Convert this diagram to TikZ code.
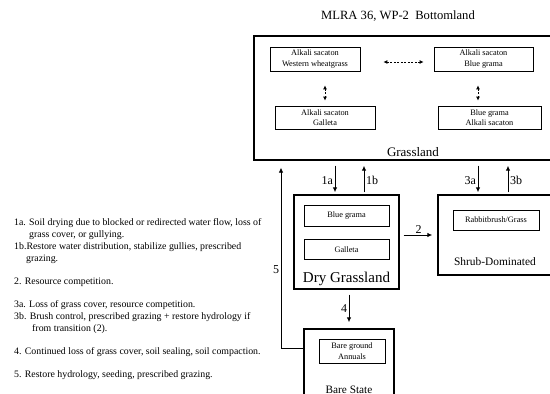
\documentclass[tikz,border=0pt]{standalone}
\usepackage{fontspec}
\setmainfont{Liberation Serif}
\usetikzlibrary{arrows.meta,positioning,calc}
\tikzset{
  statebox/.style={
    draw,
    line width=1.3pt,
    inner sep=0pt
  },
  communitybox/.style={
    draw,
    line width=0.7pt,
    align=center,
    inner sep=1pt,
    font=\fontsize{8.3}{10.5}\selectfont
  },
  statelabel/.style={font=\fontsize{13}{15}\selectfont, inner sep=1pt},
  steplabel/.style={font=\fontsize{12}{14}\selectfont, inner sep=1.5pt},
  notetext/.style={align=left, inner sep=0pt, font=\fontsize{9.85}{12}\selectfont},
  shiftarrow/.style={-{Latex[length=5pt,width=4.5pt]}, line width=1pt},
  pathwayarrow/.style={{Latex[length=4pt,width=4pt]}-{Latex[length=4pt,width=4pt]}, dash pattern=on 2pt off 1.5pt, line width=0.9pt}
}

\begin{document}
\begin{tikzpicture}[x=1pt, y=-1pt]
\useasboundingbox (0,0) rectangle (550,394);
\node[font=\fontsize{12.6}{15}\selectfont] (title) at (398,16) {MLRA 36, WP-2\ \ Bottomland};

% grassland state
\node[statebox, minimum width=318pt, minimum height=124pt] (grass) at (413,98) {};
\node[statelabel, above=3pt of grass.south] (grasslbl) {Grassland};
\node[communitybox, minimum width=90pt, minimum height=24pt] (awg) at (315,59) {Alkali sacaton\\Western wheatgrass};
\node[communitybox, minimum width=99pt, minimum height=24pt] (abg) at (483.5,59) {Alkali sacaton\\Blue grama};
\node[communitybox, minimum width=100pt, minimum height=23pt] (ag) at (325,117.5) {Alkali sacaton\\Galleta};
\node[communitybox, minimum width=103pt, minimum height=23pt] (bga) at (489.5,117.5) {Blue grama\\Alkali sacaton};

% dry grassland state
\node[statebox, minimum width=105pt, minimum height=94pt] (dry) at (346.5,242) {};
\node[communitybox, minimum width=85pt, minimum height=21pt] (bgr) at (346.5,215.5) {Blue grama};
\node[communitybox, below=13pt of bgr, minimum width=85pt, minimum height=20pt] (gal) {Galleta};
\node[statelabel, font=\fontsize{15}{17}\selectfont, above=3pt of dry.south] (drylbl) {Dry Grassland};

% shrub state
\node[statebox, minimum width=114pt, minimum height=80pt] (shrub) at (495,235) {};
\node[communitybox, minimum width=86pt, minimum height=20pt] (rab) at (496,220) {Rabbitbrush/Grass};
\node[statelabel, font=\fontsize{11.4}{14}\selectfont, above=9pt of shrub.south] (shrublbl) {Shrub-Dominated};

% bare state
\node[statebox, minimum width=90pt, minimum height=70pt] (bare) at (349,364) {};
\node[communitybox, minimum width=66pt, minimum height=24pt] (bgan) at (352,351) {Bare ground\\Annuals};
\node[statelabel, font=\fontsize{11.3}{14}\selectfont, below=21pt of bgan.south -| bare] (barelbl) {Bare State};

% notes
\node[notetext, anchor=north west] (notes) at (14,218.5) {%
1a. Soil drying due to blocked or redirected water flow, loss of\\
\hspace*{15pt}grass cover, or gullying.\\
1b.Restore water distribution, stabilize gullies, prescribed\\
\hspace*{12pt}grazing.\\[11pt]
2. Resource competition.\\[11pt]
3a. Loss of grass cover, resource competition.\\
3b. Brush control, prescribed grazing + restore hydrology if\\
\hspace*{18pt}from transition (2).\\[11pt]
4. Continued loss of grass cover, soil sealing, soil compaction.\\[11pt]
5. Restore hydrology, seeding, prescribed grazing.};

\draw[pathwayarrow, shorten <=23pt, shorten >=10pt] ([yshift=-3pt]awg.east) -- ([yshift=-3pt]abg.west);
\draw[pathwayarrow, shorten <=14pt, shorten >=5pt] (ag.north |- awg.south) -- (ag.north);
\draw[pathwayarrow, shorten <=14pt, shorten >=5pt] ([xshift=-5.5pt]abg.south) -- ([xshift=-5.5pt]abg.south |- bga.north);

\draw[shiftarrow, shorten <=5pt, shorten >=2pt] ([xshift=-11.5pt]dry.north |- grass.south) -- node[steplabel, left, pos=0.6] {1a} ([xshift=-11.5pt]dry.north);
\draw[shiftarrow, shorten <=2pt, shorten >=5pt] ([xshift=17.5pt]dry.north) -- node[steplabel, right, pos=0.4] {1b} ([xshift=17.5pt]dry.north |- grass.south);
\draw[shiftarrow, shorten <=5pt, shorten >=2pt] ([xshift=-17pt]shrub.north |- grass.south) -- node[steplabel, left, pos=0.6] {3a} ([xshift=-17pt]shrub.north);
\draw[shiftarrow, shorten <=2pt, shorten >=5pt] ([xshift=13pt]shrub.north) -- node[steplabel, right, pos=0.4] {3b} ([xshift=13pt]shrub.north |- grass.south);
\draw[shiftarrow, shorten <=4pt, shorten >=5pt] (dry.east |- shrub) -- node[steplabel, above] {2} (shrub.west);
\draw[shiftarrow, shorten <=5pt, shorten >=6pt] ([xshift=2.5pt]dry.south) -- node[steplabel, left] {4} ([xshift=2.5pt]dry.south |- bare.north);
\draw[shiftarrow, line width=0.8pt, shorten >=7pt] ([yshift=16pt]bare.west) -| node[steplabel, left, pos=0.71] {5} ([xshift=-132pt]grass.south);
\end{tikzpicture}
\end{document}
